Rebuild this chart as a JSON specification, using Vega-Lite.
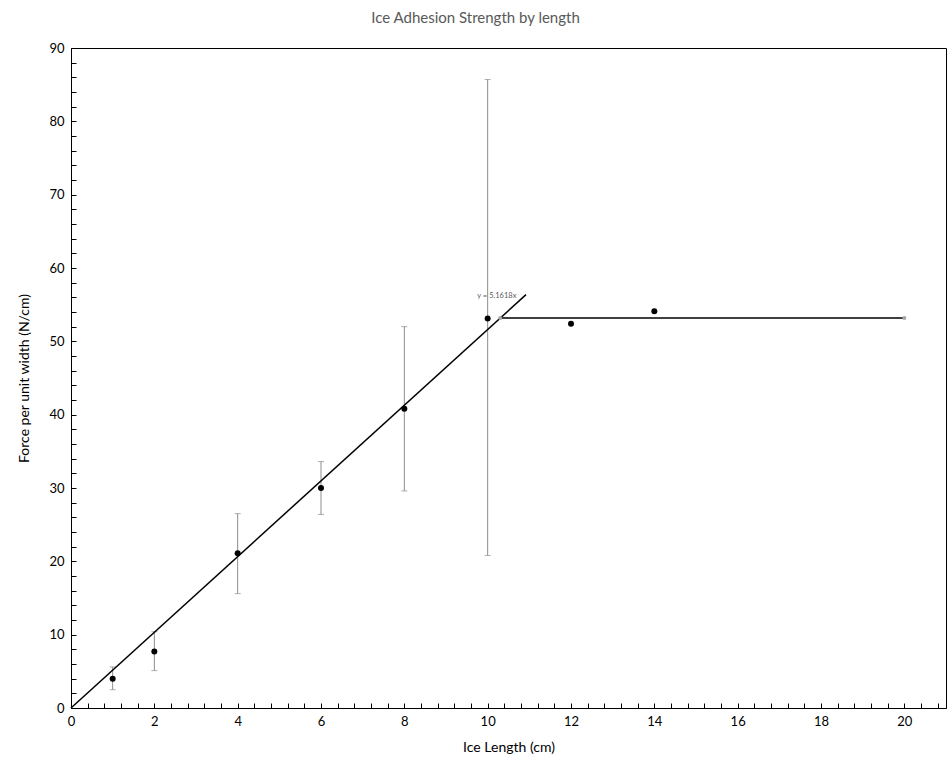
{
  "$schema": "https://vega.github.io/schema/vega-lite/v6.json",
  "width": 875,
  "height": 660,
  "autosize": {"type": "none"},
  "padding": {"left": 71, "top": 48, "right": 5, "bottom": 59},
  "background": "white",
  "config": {
    "view": {"stroke": "#000", "strokeWidth": 1},
    "font": "Lato",
    "axis": {"grid": false, "domainColor": "#000", "tickColor": "#000", "labelColor": "#000", "titleColor": "#000", "labelFont": "Lato", "titleFont": "Lato", "labelFontSize": 13, "titleFontSize": 14, "titleFontWeight": "normal"}
  },
  "title": {"text": "Ice Adhesion Strength by length", "fontSize": 15, "font": "Lato", "fontWeight": "normal", "color": "#595959", "anchor": "middle", "frame": "group", "offset": 16, "dx": -33},
  "datasets": {
    "points": [
      {"x": 1, "y": 4.0, "lo": 2.5, "hi": 5.6},
      {"x": 2, "y": 7.7, "lo": 5.1, "hi": 10.4},
      {"x": 4, "y": 21.1, "lo": 15.6, "hi": 26.5},
      {"x": 6, "y": 30.0, "lo": 26.4, "hi": 33.6},
      {"x": 8, "y": 40.8, "lo": 29.6, "hi": 52.0},
      {"x": 10, "y": 53.1, "lo": 20.8, "hi": 85.7},
      {"x": 12, "y": 52.4},
      {"x": 14, "y": 54.1}
    ],
    "trend": [
      {"x": 0, "y": 0},
      {"x": 10.92, "y": 56.37}
    ],
    "plateau": [
      {"x": 10.3, "y": 53.17},
      {"x": 20, "y": 53.17}
    ],
    "eq": [
      {"x": 10.22, "y": 56.2, "label": "y = 5.1618x"}
    ]
  },
  "layer": [
    {
      "data": {"name": "points"},
      "transform": [{"filter": "isValid(datum.lo)"}],
      "mark": {"type": "rule", "color": "#8c8c8c", "strokeWidth": 1},
      "encoding": {
        "x": {"field": "x", "type": "quantitative", "scale": {"domain": [0, 21], "nice": false, "zero": false},
          "axis": {
            "values": [0,0.4,0.8,1.2,1.6,2,2.4,2.8,3.2,3.6,4,4.4,4.8,5.2,5.6,6,6.4,6.8,7.2,7.6,8,8.4,8.8,9.2,9.6,10,10.4,10.8,11.2,11.6,12,12.4,12.8,13.2,13.6,14,14.4,14.8,15.2,15.6,16,16.4,16.8,17.2,17.6,18,18.4,18.8,19.2,19.6,20,20.4,20.8],
            "tickCount": 200,
            "labelExpr": "abs(datum.value/2 - round(datum.value/2)) < 0.01 ? format(round(datum.value), 'd') : ''",
            "labelOverlap": false, "labelFlush": false, "labelBound": false,
            "tickSize": -5, "labelPadding": 12,
            "title": "Ice Length (cm)", "titlePadding": 12
          }},
        "y": {"field": "lo", "type": "quantitative", "scale": {"domain": [0, 90], "nice": false},
          "axis": {
            "values": [0,2,4,6,8,10,12,14,16,18,20,22,24,26,28,30,32,34,36,38,40,42,44,46,48,50,52,54,56,58,60,62,64,66,68,70,72,74,76,78,80,82,84,86,88,90],
            "tickCount": 200,
            "labelExpr": "round(datum.value) % 10 == 0 ? format(round(datum.value), 'd') : ''",
            "labelOverlap": false, "labelFlush": false, "labelBound": false,
            "tickSize": -5, "labelPadding": 12,
            "title": "Force per unit width (N/cm)", "titlePadding": 17
          }},
        "y2": {"field": "hi"}
      }
    },
    {
      "data": {"name": "points"},
      "transform": [{"filter": "isValid(datum.lo)"}],
      "mark": {"type": "tick", "orient": "horizontal", "color": "#8c8c8c", "size": 6, "thickness": 1},
      "encoding": {
        "x": {"field": "x", "type": "quantitative"},
        "y": {"field": "lo", "type": "quantitative"}
      }
    },
    {
      "data": {"name": "points"},
      "transform": [{"filter": "isValid(datum.hi)"}],
      "mark": {"type": "tick", "orient": "horizontal", "color": "#8c8c8c", "size": 6, "thickness": 1},
      "encoding": {
        "x": {"field": "x", "type": "quantitative"},
        "y": {"field": "hi", "type": "quantitative"}
      }
    },
    {
      "data": {"name": "trend"},
      "mark": {"type": "line", "color": "#000", "strokeWidth": 1.5},
      "encoding": {
        "x": {"field": "x", "type": "quantitative"},
        "y": {"field": "y", "type": "quantitative"}
      }
    },
    {
      "data": {"name": "plateau"},
      "mark": {"type": "line", "color": "#000", "strokeWidth": 1.5},
      "encoding": {
        "x": {"field": "x", "type": "quantitative"},
        "y": {"field": "y", "type": "quantitative"}
      }
    },
    {
      "data": {"name": "plateau"},
      "mark": {"type": "circle", "color": "#a6a6a6", "size": 16, "opacity": 1},
      "encoding": {
        "x": {"field": "x", "type": "quantitative"},
        "y": {"field": "y", "type": "quantitative"}
      }
    },
    {
      "data": {"name": "points"},
      "mark": {"type": "circle", "color": "#000", "size": 36, "opacity": 1},
      "encoding": {
        "x": {"field": "x", "type": "quantitative"},
        "y": {"field": "y", "type": "quantitative"}
      }
    },
    {
      "data": {"name": "eq"},
      "mark": {"type": "text", "color": "#595959", "fontSize": 7.5, "font": "Lato", "align": "center", "baseline": "middle"},
      "encoding": {
        "x": {"field": "x", "type": "quantitative"},
        "y": {"field": "y", "type": "quantitative"},
        "text": {"field": "label"}
      }
    }
  ]
}
